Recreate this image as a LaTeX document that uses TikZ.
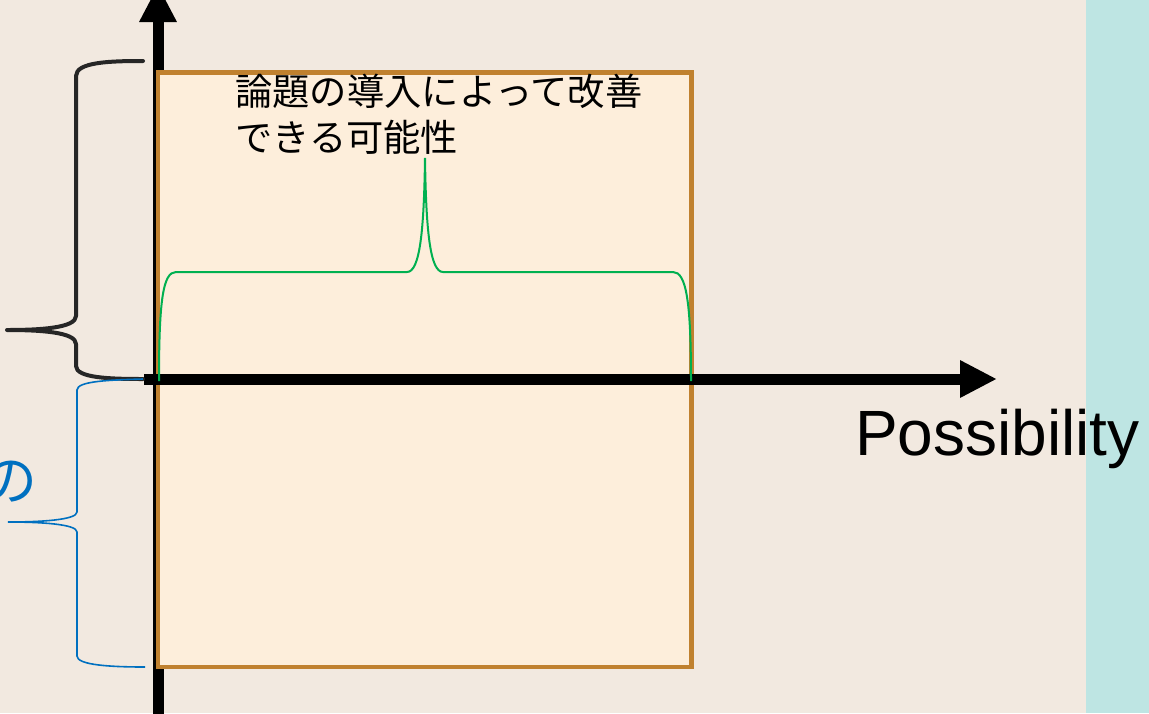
\documentclass[tikz,border=0pt]{standalone}
\usepackage{fontspec}
\setmainfont{Liberation Sans}
\newfontfamily\jpfont{Noto Sans CJK JP}
\usetikzlibrary{arrows.meta}
\definecolor{bgbeige}{HTML}{F2E9E0}
\definecolor{bgteal}{HTML}{BEE5E3}
\definecolor{boxfill}{HTML}{FDEEDB}
\definecolor{boxline}{HTML}{C0812F}
\definecolor{bracegreen}{HTML}{00B050}
\definecolor{braceblue}{HTML}{0070C0}
\definecolor{bracedark}{HTML}{262626}
\tikzset{
  axis/.style={line width=11pt, draw=black, -{Triangle[length=37pt,width=35pt]}},
  bigbrace/.style={draw=bracedark, line width=4pt, line cap=round, line join=round},
  bluebrace/.style={draw=braceblue, line width=1.6pt},
  greenbrace/.style={draw=bracegreen, line width=2pt},
  jptext/.style={font=\jpfont\fontsize{37.3}{45}\selectfont, inner sep=0pt, anchor=base west, text=black},
}
\begin{document}
\begin{tikzpicture}[x=1pt,y=-1pt]
\useasboundingbox (0,0) rectangle (1149,713);
\fill[bgbeige] (0,0) rectangle (1086,713);
\fill[bgteal] (1086,0) rectangle (1149,713);
% axes
\coordinate (yb) at (158,720);
\coordinate (yt) at (158,-15);
\coordinate (xl) at (144,379);
\coordinate (xr) at (997,379);
\draw[axis] (yb) -- (yt);
% box
\node[draw=boxline, fill=boxfill, line width=4.5pt, minimum width=533.5pt, minimum height=594.5pt, inner sep=0pt, outer sep=0pt, anchor=north west] (box) at (158,72.5) {};
\draw[axis] (xl) -- (xr);
% green brace
\draw[greenbrace] (159,381) .. controls (159,300) and (163,272) .. (176,272)
  -- (407,272) .. controls (420,272) and (424,230) .. (425,158)
  .. controls (426,230) and (430,272) .. (443,272)
  -- (673,272) .. controls (686,272) and (691,300) .. (691,381);
% black brace
\draw[bigbrace] (143,61) .. controls (110,61) and (76,62) .. (76,76)
  -- (76,316) .. controls (76,328) and (40,330) .. (7,330)
  .. controls (40,330) and (76,332) .. (76,344)
  -- (76,366) .. controls (76,378) and (110,379) .. (143,379);
% blue brace
\draw[bluebrace] (143,379) .. controls (110,380) and (77,381) .. (77,390)
  -- (77,512) .. controls (77,520) and (40,522) .. (8,522)
  .. controls (40,522) and (77,524) .. (77,532)
  -- (77,656) .. controls (77,665) and (110,667) .. (145,667);
% texts
\node[jptext] (t1) at (235,105) {論題の導入によって改善};
\node[jptext] (t2) at (235,151) {できる可能性};
\node[font=\fontsize{64}{70}\selectfont, inner sep=0pt, anchor=base west] (poss) at (855,455) {Possibility};
\node[font=\jpfont\fontsize{55}{60}\selectfont, text=braceblue, inner sep=0pt, anchor=base east] (no) at (38,500) {の};
\end{tikzpicture}
\end{document}
